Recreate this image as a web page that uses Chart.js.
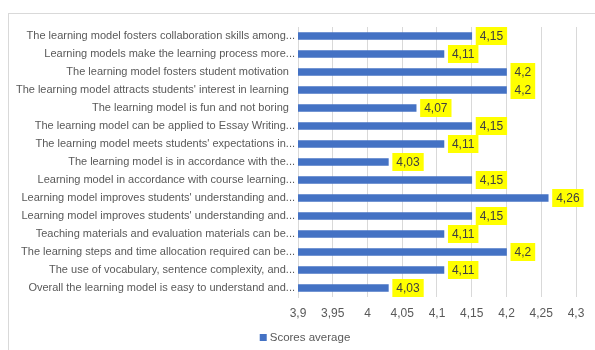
<!DOCTYPE html>
<html>
<head>
<meta charset="utf-8">
<script src="https://cdn.jsdelivr.net/npm/chart.js@4"></script>
<style>
  html, body { margin: 0; padding: 0; background: #fff; }
  #wrap { position: relative; width: 595px; height: 350px; overflow: hidden; }
  #frame { position: absolute; left: 8px; top: 13px; width: 600px; height: 360px; border: 1px solid #d9d9d9; }
  canvas { position: absolute; left: 0; top: 0; }
</style>
</head>
<body>
<div id="wrap">
  <div id="frame"></div>
  <canvas id="chart" width="595" height="350"></canvas>
</div>
<script>
var categories = [
    'The learning model fosters collaboration skills among...',
    'Learning models make the learning process more...',
    'The learning model fosters student motivation  ',
    'The learning model attracts students\' interest in learning  ',
    'The learning model is fun and not boring  ',
    'The learning model can be applied to Essay Writing...',
    'The learning model meets students\' expectations in...',
    'The learning model is in accordance with the...',
    'Learning model in accordance with course learning...',
    'Learning model improves students\' understanding and...',
    'Learning model improves students\' understanding and...',
    'Teaching materials and evaluation materials can be...',
    'The learning steps and time allocation required can be...',
    'The use of vocabulary, sentence complexity, and...',
    'Overall the learning model is easy to understand and...'
];
var scores = [4.15, 4.11, 4.2, 4.2, 4.07, 4.15, 4.11, 4.03, 4.15, 4.26, 4.15, 4.11, 4.2, 4.11, 4.03];
var seriesName = 'Scores average';
var axisMin = 3.9;
var axisMax = 4.3;
var axisStep = 0.05;

var FONT = "'Liberation Sans', Arial, sans-serif";

function comma(v) {
    return (Math.round(v * 100) / 100).toString().replace('.', ',');
}

// yellow value boxes next to each bar
var valueBoxes = {
    id: 'valueBoxes',
    afterDatasetsDraw: function(chart) {
        var ctx = chart.ctx;
        var meta = chart.getDatasetMeta(0);
        ctx.save();
        ctx.font = '12px ' + FONT;
        ctx.textBaseline = 'middle';
        ctx.textAlign = 'left';
        meta.data.forEach(function(bar, i) {
            var txt = comma(scores[i]);
            var w = ctx.measureText(txt).width + 8;
            var x = bar.x + 4;
            ctx.fillStyle = '#ffff00';
            ctx.fillRect(x, bar.y - 9, w, 18);
            ctx.fillStyle = '#404040';
            ctx.fillText(txt, x + 4, bar.y + 0.5);
        });
        ctx.restore();
    }
};

// legend drawn by hand so it can sit where the original one sits
var bottomLegend = {
    id: 'bottomLegend',
    afterDraw: function(chart) {
        var ctx = chart.ctx;
        ctx.save();
        ctx.font = '11.5px ' + FONT;
        ctx.textBaseline = 'middle';
        var tw = ctx.measureText(seriesName).width;
        var total = 7 + 3 + tw;
        var x0 = 305 - total / 2;
        ctx.fillStyle = '#4472c4';
        ctx.fillRect(x0, 334, 7, 7);
        ctx.fillStyle = '#595959';
        ctx.fillText(seriesName, x0 + 10, 337.5);
        ctx.restore();
    }
};

var ctx = document.getElementById('chart').getContext('2d');
var chart = new Chart(ctx, {
    type: 'bar',
    data: {
        labels: categories,
        datasets: [{
            label: seriesName,
            data: scores,
            backgroundColor: '#4472c4',
            barThickness: 7
        }]
    },
    options: {
        indexAxis: 'y',
        responsive: false,
        animation: false,
        layout: { padding: { left: 0, right: 19, top: 27, bottom: 0 } },
        plugins: {
            legend: { display: false },
            tooltip: { enabled: false }
        },
        scales: {
            x: {
                min: axisMin,
                max: axisMax,
                ticks: {
                    stepSize: axisStep,
                    padding: 9,
                    color: '#595959',
                    font: { family: FONT, size: 12 },
                    callback: function(v) { return comma(v); }
                },
                grid: { color: '#d9d9d9', drawTicks: false },
                border: { display: false },
                afterFit: function(scale) { scale.height = 53; }
            },
            y: {
                ticks: {
                    padding: 3,
                    color: '#595959',
                    autoSkip: false,
                    font: { family: FONT, size: 11 }
                },
                grid: { display: false, drawTicks: false },
                border: { display: true, color: '#d9d9d9' },
                afterFit: function(scale) { scale.width = 298; }
            }
        }
    },
    plugins: [valueBoxes, bottomLegend]
});
</script>
</body>
</html>
